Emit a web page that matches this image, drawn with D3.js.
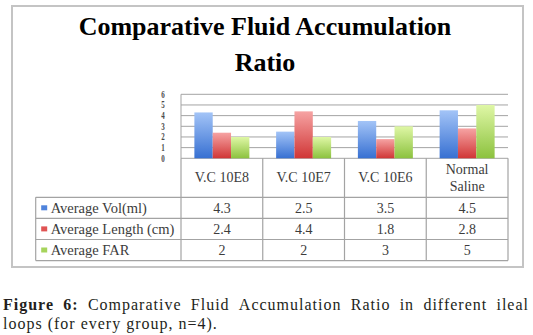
<!DOCTYPE html>
<html>
    <head>
        <title> Comparative Fluid Accumulation Ratio </title>
        <script type="text/javascript" src="https://d3js.org/d3.v7.min.js"></script>
        <style>
            body { margin: 0; background: #ffffff; }
            svg { display: block; }
        </style>
    </head>

    <body>
        <div id="my_chart"></div>
    </body>

    <script type="text/javascript">
        // Data
        var categories = ["V.C 10E8", "V.C 10E7", "V.C 10E6", "Normal Saline"];
        var series_names = ["Average Vol(ml)", "Average Length (cm)", "Average FAR"];
        var avg_vol = [4.3, 2.5, 3.5, 4.5];
        var avg_length = [2.4, 4.4, 1.8, 2.8];
        var avg_far = [2, 2, 3, 5];
        var value_labels = [["4.3", "2.5", "3.5", "4.5"], ["2.4", "4.4", "1.8", "2.8"], ["2", "2", "3", "5"]];
        var y_ticks = [0, 1, 2, 3, 4, 5, 6];
        var title_lines = ["Comparative Fluid Accumulation", "Ratio"];
        var caption_bold = "Figure 6:";
        var caption_line1 = "Comparative Fluid Accumulation Ratio in different ileal";
        var caption_line2 = "loops (for every group, n=4).";

        var series_values = [avg_vol, avg_length, avg_far];
        // top / bottom colours of the bar gradients, and legend key colour
        var series_colors = [
            {top: "#a3c4f7", bottom: "#3770d2", key: "#4f83dc"},
            {top: "#f6a3a3", bottom: "#d03636", key: "#e05454"},
            {top: "#dff7a6", bottom: "#8cc23e", key: "#a6d45c"}
        ];

        var svg_size = {width: 533, height: 335};
        // plot area (chart part above the table)
        var plot = {left: 181, right: 508, top: 94.3, bottom: 158.3};
        // table rows
        var header_bottom = 197.3;
        var row_height = 21.1;
        var table_left = 35.7;
        var grid_color = "#a3a3a3";
        var serif = "'Liberation Serif', 'DejaVu Serif', serif";

        generateVisualization();

        function generateVisualization(){
            var svg = d3.select('#my_chart')
                        .append('svg')
                        .attr('width', svg_size.width)
                        .attr('height', svg_size.height);

            // gradients for the bars
            var defs = svg.append('defs');
            series_colors.forEach(function(c, i){
                var g = defs.append('linearGradient')
                            .attr('id', 'grad' + i)
                            .attr('x1', 0).attr('y1', 0)
                            .attr('x2', 0).attr('y2', 1);
                g.append('stop').attr('offset', '0%').attr('stop-color', c.top);
                g.append('stop').attr('offset', '100%').attr('stop-color', c.bottom);
            });

            // chart frame
            svg.append('rect')
                .attr('x', 12).attr('y', 6)
                .attr('width', 511).attr('height', 261)
                .attr('fill', 'none')
                .attr('stroke', '#c4c4c4')
                .attr('stroke-width', 2);

            // title
            svg.append('g').selectAll('text')
                .data(title_lines)
                .enter()
                .append('text')
                .attr('x', 265)
                .attr('y', function(d, i){ return 34.5 + i * 36.5; })
                .attr('text-anchor', 'middle')
                .style('font-family', serif)
                .style('font-weight', 'bold')
                .style('font-size', '26px')
                .attr('fill', '#000000')
                .text(function(d){ return d; });

            // scales
            var y_scale = d3.scaleLinear()
                            .domain([0, 6])
                            .range([plot.bottom, plot.top]);

            var x_scale = d3.scaleBand()
                            .domain(categories)
                            .range([plot.left, plot.right]);

            var x_inner = d3.scaleBand()
                            .domain(d3.range(series_names.length))
                            .range([0, x_scale.bandwidth()])
                            .paddingOuter(0.73)
                            .paddingInner(0);

            // horizontal gridlines
            svg.append('g').selectAll('line')
                .data(y_ticks)
                .enter()
                .append('line')
                .attr('x1', plot.left).attr('x2', plot.right)
                .attr('y1', function(d){ return y_scale(d); })
                .attr('y2', function(d){ return y_scale(d); })
                .attr('stroke', grid_color)
                .attr('stroke-width', 1);

            // y tick labels (squeezed, as in the original)
            svg.append('g').selectAll('text')
                .data(y_ticks)
                .enter()
                .append('text')
                .attr('transform', function(d){ return 'translate(163,' + (y_scale(d) + 3.5) + ') scale(0.7,1)'; })
                .attr('text-anchor', 'middle')
                .style('font-family', serif)
                .style('font-size', '10px')
                .style('font-weight', 'bold')
                .attr('fill', '#4a4a4a')
                .text(function(d){ return d; });

            // bars
            var bar_groups = svg.append('g').selectAll('g')
                .data(series_values)
                .enter()
                .append('g')
                .attr('fill', function(d, i){ return 'url(#grad' + i + ')'; });

            bar_groups.each(function(vals, si){
                d3.select(this).selectAll('rect')
                    .data(vals)
                    .enter()
                    .append('rect')
                    .attr('x', function(d, ci){ return x_scale(categories[ci]) + x_inner(si); })
                    .attr('width', x_inner.bandwidth())
                    .attr('y', function(d){ return y_scale(d); })
                    .attr('height', function(d){ return y_scale(0) - y_scale(d); });
            });

            // y axis line
            svg.append('line')
                .attr('x1', plot.left).attr('x2', plot.left)
                .attr('y1', plot.top).attr('y2', plot.bottom)
                .attr('stroke', grid_color);

            // data table
            var table_bottom = header_bottom + row_height * series_names.length;
            var tbl = svg.append('g')
                        .attr('stroke', grid_color)
                        .attr('stroke-width', 1.2);

            // vertical lines of the table
            var col_edges = categories.map(function(c){ return x_scale(c); }).concat([plot.right]);
            tbl.selectAll('line.v')
                .data(col_edges)
                .enter()
                .append('line')
                .attr('x1', function(d){ return d; }).attr('x2', function(d){ return d; })
                .attr('y1', plot.bottom).attr('y2', table_bottom);

            tbl.append('line')
                .attr('x1', table_left).attr('x2', table_left)
                .attr('y1', header_bottom).attr('y2', table_bottom);

            // horizontal lines of the table
            var row_edges = d3.range(series_names.length + 1).map(function(i){ return header_bottom + i * row_height; });
            tbl.selectAll('line.h')
                .data(row_edges)
                .enter()
                .append('line')
                .attr('x1', table_left).attr('x2', plot.right)
                .attr('y1', function(d){ return d; }).attr('y2', function(d){ return d; });

            // category headers, wrapped when too wide for the column
            var headers = svg.append('g').selectAll('text')
                .data(categories)
                .enter()
                .append('text')
                .attr('text-anchor', 'middle')
                .style('font-family', serif)
                .style('font-size', '14px')
                .attr('fill', '#3c3c3c');

            headers.each(function(c){
                var t = d3.select(this);
                var cx = x_scale(c) + x_scale.bandwidth() / 2;
                var lines = [c];
                t.text(c);
                if (this.getComputedTextLength() > x_scale.bandwidth() - 14) {
                    lines = c.split(' ');
                }
                t.text(null);
                var mid = (plot.bottom + header_bottom) / 2 + 4.5;
                lines.forEach(function(line, i){
                    t.append('tspan')
                        .attr('x', cx)
                        .attr('y', mid + (i - (lines.length - 1) / 2) * 16.5)
                        .text(line);
                });
            });

            // legend keys and series names
            var rows = svg.append('g').selectAll('g')
                .data(series_names)
                .enter()
                .append('g')
                .attr('transform', function(d, i){ return 'translate(0,' + (header_bottom + i * row_height) + ')'; });

            rows.append('rect')
                .attr('x', table_left + 5.5)
                .attr('y', 8)
                .attr('width', 6)
                .attr('height', 5)
                .attr('fill', function(d, i){ return series_colors[i].key; });

            rows.append('text')
                .attr('x', table_left + 15)
                .attr('y', 15.5)
                .style('font-family', serif)
                .style('font-size', '14.5px')
                .attr('fill', '#3c3c3c')
                .text(function(d){ return d; });

            // values in the table
            rows.each(function(name, si){
                d3.select(this).selectAll('text.val')
                    .data(value_labels[si])
                    .enter()
                    .append('text')
                    .attr('class', 'val')
                    .attr('x', function(d, ci){ return x_scale(categories[ci]) + x_scale.bandwidth() / 2; })
                    .attr('y', 15.5)
                    .attr('text-anchor', 'middle')
                    .style('font-family', serif)
                    .style('font-size', '14px')
                    .attr('fill', '#3c3c3c')
                    .text(function(d){ return d; });
            });

            // caption, first line justified between the margins
            var cap = svg.append('g')
                        .style('font-family', serif)
                        .style('font-size', '16px')
                        .style('letter-spacing', '1px')
                        .attr('fill', '#231f20');

            var words = caption_bold.split(' ').map(function(w){ return {w: w, bold: true}; })
                .concat(caption_line1.split(' ').map(function(w){ return {w: w, bold: false}; }));

            var word_nodes = cap.selectAll('text.w')
                .data(words)
                .enter()
                .append('text')
                .attr('class', 'w')
                .attr('y', 310)
                .style('font-weight', function(d){ return d.bold ? 'bold' : 'normal'; })
                .text(function(d){ return d.w; });

            var widths = [];
            word_nodes.each(function(){ widths.push(this.getComputedTextLength()); });
            var cap_left = 3, cap_right = 529;
            var gap = (cap_right - cap_left - d3.sum(widths)) / (words.length - 1);
            var pos = cap_left;
            word_nodes.attr('x', function(d, i){
                var x = pos;
                pos += widths[i] + gap;
                return x;
            });

            cap.append('text')
                .attr('x', cap_left)
                .attr('y', 328.5)
                .text(caption_line2);
        }
    </script>
</html>
